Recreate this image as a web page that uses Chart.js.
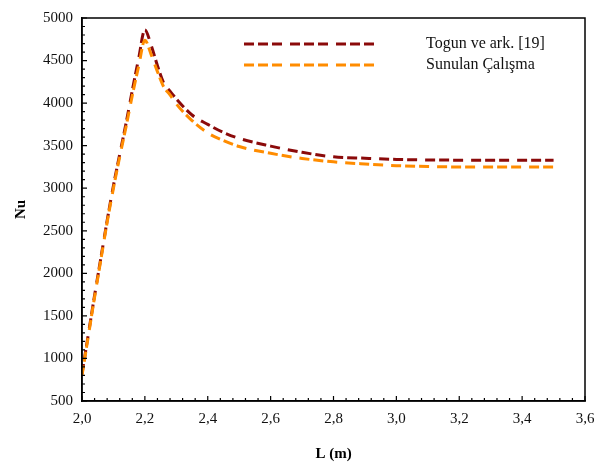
<!DOCTYPE html>
<html>
<head>
<meta charset="utf-8">
<script src="https://cdn.jsdelivr.net/npm/chart.js@4/dist/chart.umd.min.js"></script>
<style>
  html, body { margin: 0; padding: 0; background: #fff; }
  #wrap { width: 609px; height: 463px; }
</style>
</head>
<body>
<div id="wrap"><canvas id="nuChart" width="609" height="463"></canvas></div>
<script>
// L (m) values shared by both curves
const lengths = [2.00, 2.02, 2.04, 2.06, 2.08, 2.10, 2.12, 2.14, 2.16, 2.18, 2.20,
  2.22, 2.24, 2.26, 2.28, 2.30, 2.35, 2.40, 2.45, 2.50, 2.60, 2.70, 2.80, 2.90,
  3.00, 3.10, 3.20, 3.30, 3.40, 3.50];

const togunNu = [820, 1280, 1740, 2180, 2620, 3030, 3400, 3760, 4150, 4520, 4860,
  4680, 4440, 4235, 4140, 4050, 3860, 3750, 3655, 3585, 3495, 3422, 3369, 3352,
  3338, 3332, 3330, 3330, 3330, 3330];

const sunulanNu = [800, 1260, 1720, 2160, 2600, 3000, 3370, 3720, 4090, 4430, 4740,
  4570, 4370, 4190, 4098, 3990, 3795, 3650, 3560, 3490, 3410, 3350, 3310, 3285,
  3265, 3255, 3250, 3250, 3250, 3250];

const seriesLabels = ["Togun ve ark. [19]", "Sunulan Çalışma"];
const seriesColors = ["#8b0a0a", "#ff8c00"];

const xTicks = [2.0, 2.2, 2.4, 2.6, 2.8, 3.0, 3.2, 3.4, 3.6];
const yTicks = [500, 1000, 1500, 2000, 2500, 3000, 3500, 4000, 4500, 5000];

const serif = "'Liberation Serif', 'Times New Roman', serif";
const dashPattern = [10, 4, 10, 4, 10, 8];

const toPoints = (ys) => lengths.map((l, i) => ({ x: l, y: ys[i] }));

// frame + inward ticks (major & minor)
const frameTicks = {
  id: "frameTicks",
  afterDraw(chart) {
    const { ctx, chartArea: a, scales } = chart;
    const xs = scales.x, ys = scales.y;
    ctx.save();
    ctx.strokeStyle = "#000";
    ctx.lineWidth = 1.5;
    ctx.strokeRect(a.left, a.top, a.right - a.left, a.bottom - a.top);
    ctx.lineWidth = 1.2;
    ctx.beginPath();
    for (let i = 0; i <= 40; i++) {
      const v = 2.0 + i * 0.04;
      const px = xs.getPixelForValue(v);
      const len = i % 5 === 0 ? 5 : 3;
      ctx.moveTo(px, a.bottom);
      ctx.lineTo(px, a.bottom - len);
    }
    for (let i = 0; i <= 45; i++) {
      const v = 500 + i * 100;
      const py = ys.getPixelForValue(v);
      const len = i % 5 === 0 ? 5 : 3;
      ctx.moveTo(a.left, py);
      ctx.lineTo(a.left + len, py);
    }
    ctx.stroke();
    ctx.restore();
  }
};

// legend drawn inside the plot, lines left, text right
const innerLegend = {
  id: "innerLegend",
  afterDraw(chart) {
    const { ctx } = chart;
    ctx.save();
    chart.data.datasets.forEach((ds, i) => {
      const y = 44 + i * 21;
      ctx.strokeStyle = ds.borderColor;
      ctx.lineWidth = 3;
      ctx.setLineDash(dashPattern);
      ctx.beginPath();
      ctx.moveTo(244, y);
      ctx.lineTo(382, y);
      ctx.stroke();
      ctx.setLineDash([]);
      ctx.fillStyle = "#111";
      ctx.font = "16px " + serif;
      ctx.textBaseline = "middle";
      ctx.textAlign = "left";
      ctx.fillText(ds.label, 426, y);
    });
    ctx.restore();
  }
};

new Chart(document.querySelector("#nuChart"), {
  type: "line",
  data: {
    datasets: [
      {
        label: seriesLabels[0],
        data: toPoints(togunNu),
        borderColor: seriesColors[0],
        borderWidth: 3,
        borderDash: dashPattern,
        pointRadius: 0,
        cubicInterpolationMode: "monotone",
        order: 1,
      },
      {
        label: seriesLabels[1],
        data: toPoints(sunulanNu),
        borderColor: seriesColors[1],
        borderWidth: 3,
        borderDash: dashPattern,
        pointRadius: 0,
        cubicInterpolationMode: "monotone",
        order: 0,
      },
    ],
  },
  options: {
    responsive: false,
    animation: false,
    layout: { padding: { top: 12, right: 24, bottom: 0, left: 0 } },
    plugins: {
      legend: { display: false },
      tooltip: { enabled: false },
    },
    scales: {
      x: {
        type: "linear",
        min: 2.0,
        max: 3.6,
        afterBuildTicks: (s) => { s.ticks = xTicks.map((v) => ({ value: v })); },
        afterFit: (s) => { s.height = 62; },
        grid: { display: false, drawTicks: false },
        border: { display: true, color: "#000", width: 1.5 },
        ticks: {
          padding: 9,
          color: "#111",
          font: { family: serif, size: 15 },
          callback: (v) => Number(v).toFixed(1).replace(".", ","),
        },
        title: {
          display: true,
          text: "L (m)",
          color: "#000",
          font: { family: serif, size: 15, weight: "bold" },
          padding: { top: 3, bottom: 0 },
        },
      },
      y: {
        min: 500,
        max: 5000,
        afterBuildTicks: (s) => { s.ticks = yTicks.map((v) => ({ value: v })); },
        afterFit: (s) => { s.width = 82; },
        grid: { display: false, drawTicks: false },
        border: { display: true, color: "#000", width: 1.5 },
        ticks: {
          padding: 9,
          color: "#111",
          font: { family: serif, size: 15 },
          callback: (v) => String(v),
        },
        title: {
          display: true,
          text: "Nu",
          color: "#000",
          font: { family: serif, size: 15, weight: "bold" },
          padding: { top: 12, bottom: 0 },
        },
      },
    },
  },
  plugins: [frameTicks, innerLegend],
});
</script>
</body>
</html>
